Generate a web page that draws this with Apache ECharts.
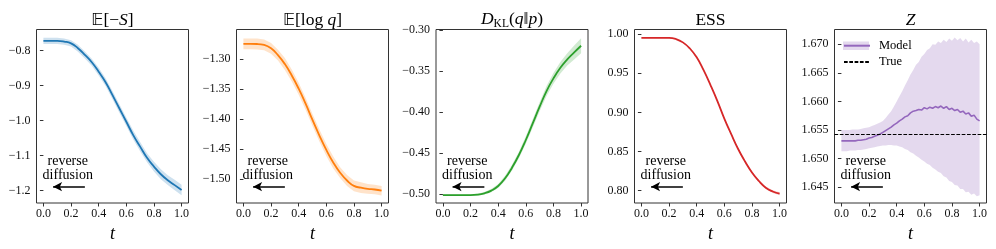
<!DOCTYPE html>
<html>
<head>
<meta charset="utf-8">
<script src="https://cdn.jsdelivr.net/npm/echarts@6/dist/echarts.min.js"></script>
<style>html,body{margin:0;padding:0;background:#fff;}#c{width:996px;height:249px;}</style>
</head>
<body>
<div id="c"></div>
<script>
// ---------------- data ----------------
const T = [0,0.05,0.1,0.15,0.2,0.25,0.3,0.35,0.4,0.45,0.5,0.55,0.6,0.65,0.7,0.75,0.8,0.85,0.9,0.95,1.0];
const X_TICKS = [0,0.2,0.4,0.6,0.8,1.0];

const NEG_S_MEAN = [-0.772,-0.772,-0.772,-0.774,-0.779,-0.793,-0.812,-0.833,-0.860,-0.890,-0.927,-0.965,-1.003,-1.041,-1.074,-1.106,-1.131,-1.153,-1.170,-1.184,-1.198];
const NEG_S_SD   = [0.009,0.009,0.009,0.009,0.009,0.010,0.010,0.010,0.011,0.011,0.012,0.012,0.012,0.013,0.013,0.013,0.014,0.014,0.014,0.015,0.015];
const NEG_S_TICKS = [-0.8,-0.9,-1.0,-1.1,-1.2];

const LOGQ_MEAN = [-1.2744,-1.2744,-1.2745,-1.2760,-1.2817,-1.293,-1.308,-1.327,-1.349,-1.374,-1.401,-1.427,-1.451,-1.472,-1.489,-1.502,-1.511,-1.514,-1.516,-1.517,-1.519];
const LOGQ_SD   = [0.009,0.009,0.009,0.009,0.009,0.009,0.010,0.010,0.010,0.010,0.010,0.010,0.010,0.010,0.009,0.009,0.009,0.009,0.008,0.008,0.008];
const LOGQ_TICKS = [-1.25,-1.30,-1.35,-1.40,-1.45,-1.50];

const KL_MEAN = [-0.501,-0.501,-0.501,-0.501,-0.501,-0.5005,-0.4988,-0.4955,-0.4899,-0.4805,-0.4676,-0.4522,-0.4339,-0.4137,-0.3934,-0.3743,-0.3589,-0.3460,-0.3358,-0.3273,-0.3192];
const KL_SD   = [0.001,0.001,0.001,0.001,0.001,0.0012,0.0015,0.002,0.0025,0.003,0.0035,0.004,0.0045,0.005,0.0055,0.006,0.0065,0.007,0.0075,0.0085,0.009];
const KL_TICKS = [-0.30,-0.35,-0.40,-0.45,-0.50];

const ESS_MEAN = [0.9955,0.9955,0.9955,0.9955,0.9955,0.9940,0.9897,0.9820,0.9705,0.9540,0.9350,0.9145,0.8920,0.8720,0.8530,0.8370,0.8230,0.8120,0.8034,0.7985,0.7957];
const ESS_SD   = [0.0004,0.0004,0.0004,0.0004,0.0004,0.0004,0.0005,0.0005,0.0005,0.0006,0.0006,0.0007,0.0008,0.0009,0.0010,0.0011,0.0012,0.0014,0.0016,0.0018,0.0020];
const ESS_TICKS = [1.00,0.95,0.90,0.85,0.80];

const TZ = [0,0.02,0.04,0.06,0.08,0.10,0.12,0.14,0.16,0.18,0.20,0.22,0.24,0.26,0.28,0.30,0.32,0.34,0.36,0.38,0.40,0.42,0.44,0.46,0.48,0.50,0.52,0.54,0.56,0.58,0.60,0.62,0.64,0.66,0.68,0.70,0.72,0.74,0.76,0.78,0.80,0.82,0.84,0.86,0.88,0.90,0.92,0.94,0.96,0.98,1.00];
const Z_MEAN = [1.6531,1.6531,1.6531,1.6531,1.6531,1.6531,1.6532,1.6532,1.6533,1.6534,1.6536,1.6537,1.6539,1.6541,1.6543,1.6546,1.6549,1.6552,1.6555,1.6559,1.6562,1.6566,1.6569,1.6573,1.6575,1.6580,1.6583,1.6584,1.6586,1.6585,1.6589,1.6587,1.6590,1.6588,1.6591,1.6589,1.6592,1.6588,1.6591,1.6586,1.6588,1.6584,1.6586,1.6581,1.6583,1.6578,1.6580,1.6574,1.6576,1.6569,1.6566];
const Z_UPPER = [1.6550,1.6550,1.6550,1.6550,1.6551,1.6551,1.6551,1.6552,1.6553,1.6554,1.6555,1.6557,1.6559,1.6561,1.6563,1.6566,1.6571,1.6577,1.6583,1.6591,1.6600,1.6609,1.6618,1.6628,1.6637,1.6647,1.6655,1.6664,1.6669,1.6678,1.6683,1.6690,1.6693,1.6700,1.6699,1.6705,1.6702,1.6708,1.6704,1.6710,1.6706,1.6712,1.6707,1.6711,1.6705,1.6710,1.6703,1.6708,1.6702,1.6705,1.6700];
const Z_LOWER = [1.6513,1.6513,1.6513,1.6514,1.6514,1.6514,1.6515,1.6515,1.6516,1.6517,1.6518,1.6519,1.6520,1.6521,1.6522,1.6523,1.6523,1.6524,1.6524,1.6523,1.6523,1.6521,1.6520,1.6517,1.6515,1.6511,1.6509,1.6505,1.6502,1.6498,1.6495,1.6491,1.6489,1.6484,1.6481,1.6477,1.6475,1.6469,1.6467,1.6461,1.6459,1.6454,1.6453,1.6447,1.6447,1.6441,1.6442,1.6437,1.6439,1.6434,1.6436];
const TRUE_Z = 1.6542;
const Z_TICKS = [1.670,1.665,1.660,1.655,1.650,1.645];

// ---------------- layout / style ----------------
const SERIF = "'Liberation Serif','DejaVu Serif',serif";
const GRID_LEFT = [36.5, 236.5, 436, 634.5, 834.5];
const GRID_W = 152, GRID_TOP = 29.5, GRID_H = 173.5;
const X_MIN = -0.05, X_MAX = 1.05;

const RICH = {
  n:  {fontFamily: SERIF, fontSize: 17.5, color: '#000'},
  it: {fontFamily: SERIF, fontSize: 17.5, fontStyle: 'italic', color: '#000'},
  bb: {fontFamily: "'DejaVu Sans','DejaVu Serif',sans-serif", fontSize: 16.5, color: '#000'},
  sub:{fontFamily: SERIF, fontSize: 11.5, color: '#000', padding: [9,0,0,0]}
};

const panels = [
  {title: '{bb|𝔼}{n|[−}{it|S}{n|]}', t: T, mean: NEG_S_MEAN, sd: NEG_S_SD, ticks: NEG_S_TICKS, dec: 1, min: -1.2351, max: -0.7394, color: '#1f77b4', band: 'rgba(31,119,180,0.22)', smooth: true},
  {title: '{bb|𝔼}{n|[log }{it|q}{n|]}', t: T, mean: LOGQ_MEAN, sd: LOGQ_SD, ticks: LOGQ_TICKS, dec: 2, min: -1.5395, max: -1.2503, color: '#ff7f0e', band: 'rgba(255,127,14,0.22)', smooth: true},
  {title: '{it|D}{sub|KL}{n|(}{it|q}{n|‖}{it|p}{n|)}', t: T, mean: KL_MEAN, sd: KL_SD, ticks: KL_TICKS, dec: 2, min: -0.5106, max: -0.2994, color: '#2ca02c', band: 'rgba(44,160,44,0.22)', smooth: true},
  {title: '{n|ESS}', t: T, mean: ESS_MEAN, sd: ESS_SD, ticks: ESS_TICKS, dec: 2, min: 0.7838, max: 1.0062, color: '#d62728', band: 'rgba(214,39,40,0.22)', smooth: true},
  {title: '{it|Z}', t: TZ, mean: Z_MEAN, upper: Z_UPPER, lower: Z_LOWER, ticks: Z_TICKS, dec: 3, min: 1.64224, max: 1.67258, color: '#9467bd', band: 'rgba(148,103,189,0.25)', smooth: false}
];

function fmt(dec) { return v => (v < -1e-9 ? '\u2212' : '') + Math.abs(v).toFixed(dec); }

function bandRenderer(fill) {
  return function (params, api) {
    if (params.dataIndex !== 0) return null;
    const n = params.dataInsideLength;
    const up = [], dn = [];
    for (let k = 0; k < n; k++) {
      up.push(api.coord([api.value(0, k), api.value(2, k)]));
      dn.push(api.coord([api.value(0, k), api.value(1, k)]));
    }
    return {type: 'polygon', shape: {points: up.concat(dn.reverse())}, style: {fill: fill, stroke: null}, silent: true};
  };
}

const grid = [], xAxis = [], yAxis = [], series = [];
panels.forEach((p, i) => {
  grid.push({left: GRID_LEFT[i], top: GRID_TOP, width: GRID_W, height: GRID_H, show: true,
             borderColor: '#333', borderWidth: 1, backgroundColor: 'transparent', containLabel: false, outerBoundsMode: 'none'});
  xAxis.push({type: 'value', gridIndex: i, min: X_MIN, max: X_MAX, position: 'bottom',
    name: 't', nameLocation: 'middle', nameGap: 13,
    nameTextStyle: {fontFamily: SERIF, fontSize: 18, fontStyle: 'italic', color: '#000'},
    axisLine: {show: false}, splitLine: {show: false},
    axisTick: {show: true, inside: false, length: 3.5, customValues: X_TICKS, lineStyle: {color: '#333', width: 1}},
    axisLabel: {show: true, customValues: X_TICKS, margin: 5, formatter: fmt(1), fontFamily: SERIF, fontSize: 12, color: '#111'}
  });
  xAxis.push({type: 'value', gridIndex: i, min: X_MIN, max: X_MAX, position: 'top',
    name: p.title, nameLocation: 'middle', nameGap: 0, nameTextStyle: {rich: RICH, fontFamily: SERIF, fontSize: 17.5, color: '#000'},
    axisLine: {show: false}, axisTick: {show: false}, axisLabel: {show: false}, splitLine: {show: false}
  });
  yAxis.push({type: 'value', gridIndex: i, min: p.min, max: p.max,
    axisLine: {show: false}, splitLine: {show: false},
    axisTick: {show: true, inside: false, length: 3.5, customValues: p.ticks, lineStyle: {color: '#333', width: 1}},
    axisLabel: {show: true, customValues: p.ticks, margin: 6, formatter: fmt(p.dec), fontFamily: SERIF, fontSize: 12, color: '#111'}
  });
  const lo = p.lower ? p.lower : p.mean.map((m, k) => m - p.sd[k]);
  const hi = p.upper ? p.upper : p.mean.map((m, k) => m + p.sd[k]);
  const xi = i * 2;
  series.push({name: 'band_' + i, type: 'custom', xAxisIndex: xi, yAxisIndex: i,
    data: p.t.map((t, k) => [t, lo[k], hi[k]]), encode: {x: 0, y: [1, 2]},
    renderItem: bandRenderer(p.band), silent: true, z: 1, clip: true});
  const yr = p.max - p.min;
  const yA = p.min + 0.094 * yr;
  const mlData = [[
    {coord: [0.3, yA], symbol: 'none', symbolSize: 0},
    {coord: [0.07, yA], symbol: 'arrow', symbolSize: [7, 9]}
  ]];
  if (i === 4) {
    mlData.push({yAxis: TRUE_Z, symbol: 'none', lineStyle: {color: '#000', width: 1, type: [3.7, 1.6]}});
  }
  series.push({name: i === 4 ? 'Model' : 'mean_' + i, type: 'line', xAxisIndex: xi, yAxisIndex: i,
    data: p.t.map((t, k) => [t, p.mean[k]]), symbol: 'none', showSymbol: false, smooth: p.smooth,
    lineStyle: {color: p.color, width: i === 4 ? 1.6 : 1.8}, itemStyle: {color: p.color}, z: 3,
    markLine: {silent: true, symbol: 'none', precision: 6,
      itemStyle: {color: '#000'},
      lineStyle: {color: '#000', width: 1.5, type: 'solid'}, label: {show: false},
      data: mlData},
    markPoint: {silent: true, symbol: 'circle', symbolSize: 1, itemStyle: {color: 'rgba(0,0,0,0)'},
      label: {show: true, position: 'inside', formatter: 'reverse\ndiffusion', color: '#000', fontFamily: SERIF, fontSize: 14, lineHeight: 13.5},
      data: [{coord: [0.176, p.min + 0.2 * yr]}]}
  });
});
series.push({name: 'True', type: 'line', xAxisIndex: 8, yAxisIndex: 4, data: [], symbol: 'none',
  lineStyle: {color: '#000', width: 1, type: [3.7, 1.6]}, itemStyle: {color: '#000'}, z: 4});

const chart = echarts.init(document.getElementById('c'), null, {renderer: 'canvas'});
chart.setOption({
  animation: false,
  backgroundColor: '#fff',
  grid, xAxis, yAxis, series,
  legend: {show: true, data: ['Model', 'True'], orient: 'vertical', left: 843, top: 38.7, padding: 0,
    itemWidth: 26, itemHeight: 8, itemGap: 2.3, selectedMode: false,
    itemStyle: {color: 'rgba(0,0,0,0)', borderWidth: 0, opacity: 0},
    textStyle: {fontFamily: SERIF, fontSize: 12.5, color: '#000', lineHeight: 14, padding: [0, 0, 0, 4]}},
  graphic: [{type: 'rect', z: 0, shape: {x: 843, y: 41.5, width: 26, height: 8.5}, style: {fill: 'rgba(148,103,189,0.25)'}}]
});
</script>
</body>
</html>
